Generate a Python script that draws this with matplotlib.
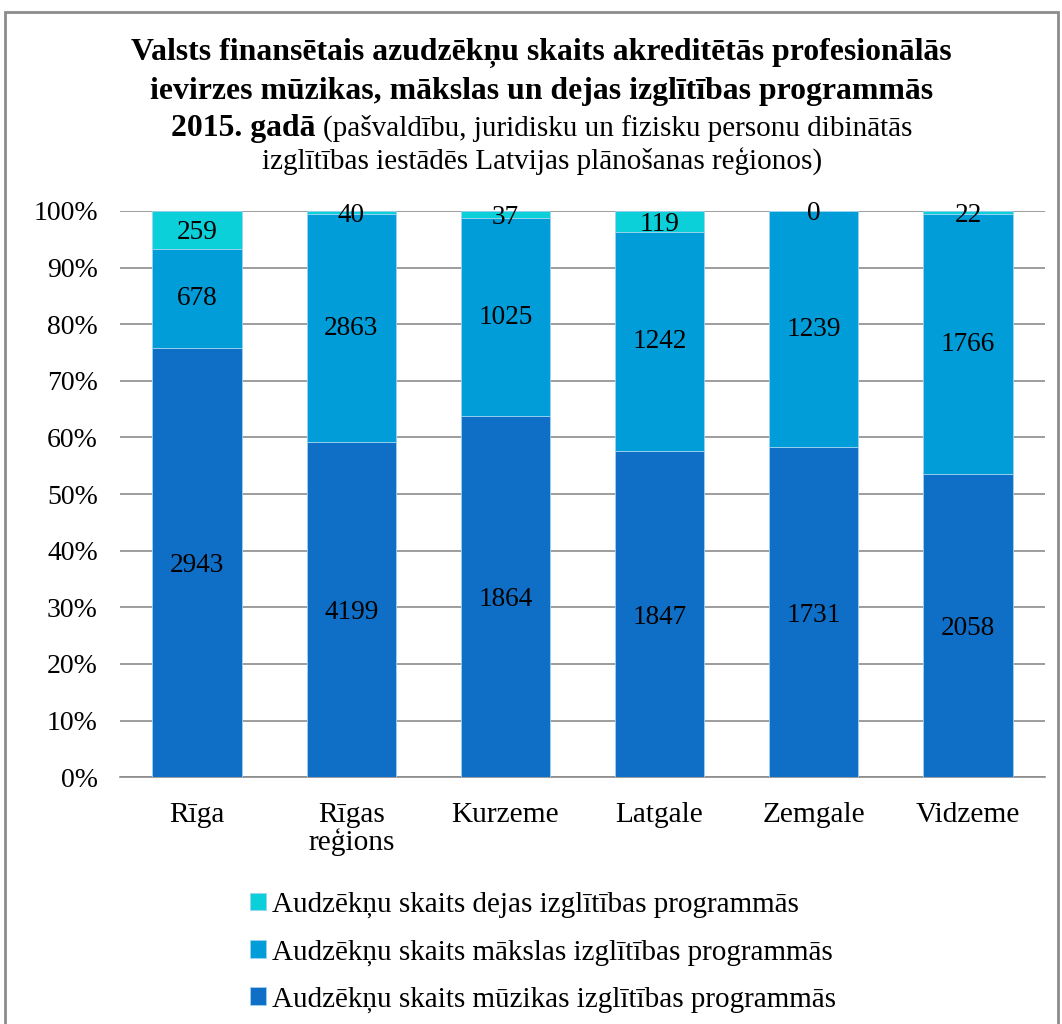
import numpy as np
import matplotlib.pyplot as plt
from matplotlib.patches import Rectangle

plt.rcParams['font.family'] = ['Liberation Serif', 'DejaVu Serif']

regions = ['Rīga', 'Rīgas\nreģions', 'Kurzeme', 'Latgale', 'Zemgale', 'Vidzeme']
muzika = [2943, 4199, 1864, 1847, 1731, 2058]
maksla = [678, 2863, 1025, 1242, 1239, 1766]
dejas = [259, 40, 37, 119, 0, 22]

lbl_dejas = 'Audzēkņu skaits dejas izglītības programmās'
lbl_maksla = 'Audzēkņu skaits mākslas izglītības programmās'
lbl_muzika = 'Audzēkņu skaits mūzikas izglītības programmās'

c_dejas = '#0BD0D9'
c_maksla = '#009DD9'
c_muzika = '#0F6FC6'

tot = np.array(muzika) + np.array(maksla) + np.array(dejas)
p_mu = np.array(muzika) / tot * 100
p_ma = np.array(maksla) / tot * 100
p_de = np.array(dejas) / tot * 100

fig = plt.figure(figsize=(10.62, 10.24), dpi=100)
ax = fig.add_axes([0.113, 0.241, 0.871, 0.553])

x = np.arange(len(regions))
w = 0.58
ec = '#9fd3f0'
b1 = ax.bar(x, p_mu, w, color=c_muzika, edgecolor=ec, linewidth=0.6, label=lbl_muzika, zorder=3)
b2 = ax.bar(x, p_ma, w, bottom=p_mu, color=c_maksla, edgecolor=ec, linewidth=0.6, label=lbl_maksla, zorder=3)
b3 = ax.bar(x, p_de, w, bottom=p_mu + p_ma, color=c_dejas, edgecolor=ec, linewidth=0.6, label=lbl_dejas, zorder=3)

fs_lab = 19.6
for i in range(len(regions)):
    ax.text(x[i], p_mu[i] / 2 - 0.5, str(muzika[i]), ha='center', va='center', fontsize=fs_lab, zorder=4)
    ax.text(x[i], p_mu[i] + p_ma[i] / 2, str(maksla[i]), ha='center', va='center', fontsize=fs_lab, zorder=4)
    ax.text(x[i], p_mu[i] + p_ma[i] + p_de[i] / 2 - 0.5, str(dejas[i]), ha='center', va='center', fontsize=fs_lab, zorder=4)

ax.set_xlim(-0.5, len(regions) - 0.5)
ax.set_ylim(0, 100)
ax.set_yticks(np.arange(0, 101, 10))
ax.set_yticklabels(['%d%%' % v for v in range(0, 101, 10)], fontsize=20)
ax.set_xticks(x)
ax.set_xticklabels(regions, fontsize=21.2, linespacing=1.02)
ax.tick_params(length=0)
ax.tick_params(axis='y', pad=16)
ax.tick_params(axis='x', pad=18)
ax.grid(axis='y', color='#8c8c8c', linewidth=1.2, zorder=0)
for s in ['top', 'right', 'left']:
    ax.spines[s].set_visible(False)
ax.spines['bottom'].set_color('#8c8c8c')
ax.spines['bottom'].set_linewidth(1.2)

fig.legend([b3, b2, b1], [lbl_dejas, lbl_maksla, lbl_muzika], loc='upper left',
           bbox_to_anchor=(0.2354, 0.129), frameon=False, fontsize=21,
           handlelength=0.55, handleheight=0.55, handletextpad=0.2, labelspacing=0.72,
           borderaxespad=0, borderpad=0)

# title
fs_b = 22.9
fs_n = 21
cx = 0.510
fig.text(cx, 1 - 53 / 1024, 'Valsts finansētais azudzēkņu skaits akreditētās profesionālās',
         ha='center', va='center', fontsize=fs_b, fontweight='bold')
fig.text(cx, 1 - 91 / 1024, 'ievirzes mūzikas, mākslas un dejas izglītības programmās',
         ha='center', va='center', fontsize=fs_b, fontweight='bold')
r = fig.canvas.get_renderer()
t_a = fig.text(0, 0, '2015. gadā ', fontsize=fs_b, fontweight='bold')
t_b = fig.text(0, 0, '(pašvaldību, juridisku un fizisku personu dibinātās', fontsize=fs_n)
wa = t_a.get_window_extent(r).width / fig.bbox.width
wb = t_b.get_window_extent(r).width / fig.bbox.width
x0 = cx - (wa + wb) / 2
y3 = 1 - 136 / 1024
t_a.set_position((x0, y3)); t_a.set_va('baseline')
t_b.set_position((x0 + wa, y3)); t_b.set_va('baseline')
fig.text(cx, 1 - 162 / 1024, 'izglītības iestādēs Latvijas plānošanas reģionos)',
         ha='center', va='center', fontsize=fs_n)

fig.patches.append(Rectangle((5 / 1062, -0.01), 1053 / 1062, 1 - 12 / 1024 + 0.01,
                             transform=fig.transFigure, fill=False, edgecolor='#8c8c8c', linewidth=2))

fig.savefig('out.png', dpi=100)
